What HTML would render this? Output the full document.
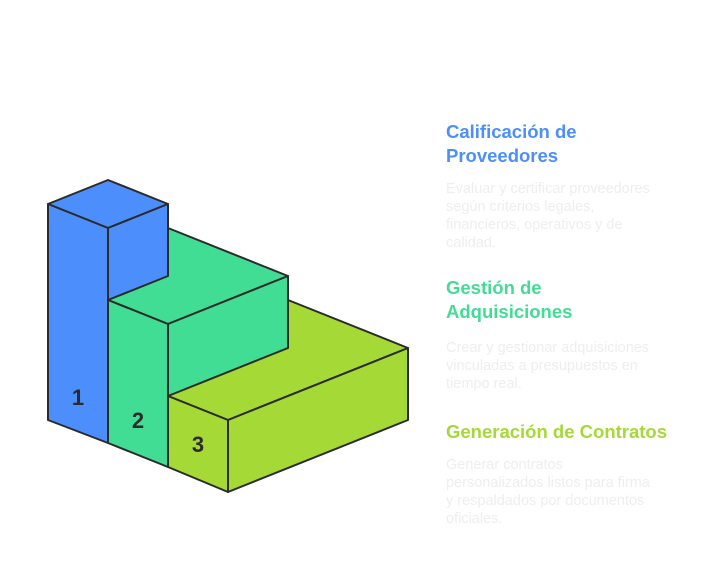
<!DOCTYPE html>
<html><head><meta charset="utf-8"><style>
html,body{margin:0;padding:0;background:#fff;}
body{width:720px;height:562px;position:relative;overflow:hidden;font-family:"Liberation Sans",sans-serif;}
.t{position:absolute;left:446px;font-weight:bold;font-size:18.5px;line-height:24px;}
.d{position:absolute;left:446px;font-size:14.5px;line-height:18px;color:#eeeeee;width:222px;}
</style></head><body>
<svg width="720" height="562" style="position:absolute;left:0;top:0" stroke="#2b2b2b" stroke-width="2" stroke-linejoin="round">
<g fill="#a5d936">
<polygon points="168,396 228,420 408,348 288,300"/>
<polygon points="168,396 228,420 228,492 168,467"/>
<polygon points="228,420 408,348 408,420 228,492"/>
</g>
<g fill="#42dd94">
<polygon points="108,300 168,324 288,276 168,228"/>
<polygon points="108,300 168,324 168,467 108,443"/>
<polygon points="168,324 288,276 288,348 168,396"/>
</g>
<g fill="#4c8ffc">
<polygon points="48,204 108,180 168,204 108,228"/>
<polygon points="48,204 108,228 108,443 48,420"/>
<polygon points="108,228 168,204 168,276 108,300"/>
</g>
<g fill="#2b2b2b" stroke="none" font-family="Liberation Sans" font-weight="bold" font-size="22" text-anchor="middle">
<text x="78" y="405">1</text>
<text x="138" y="428">2</text>
<text x="198" y="452">3</text>
</g>
</svg>
<div class="t" style="top:120px;color:#4c8ffc">Calificación de<br>Proveedores</div>
<div class="d" style="top:180px">Evaluar y certificar proveedores según criterios legales, financieros, operativos y de calidad.</div>
<div class="t" style="top:276px;color:#42dd94">Gestión de<br>Adquisiciones</div>
<div class="d" style="top:339px">Crear y gestionar adquisiciones vinculadas a presupuestos en tiempo real.</div>
<div class="t" style="top:420px;color:#a5d936">Generación de Contratos</div>
<div class="d" style="top:456px;width:240px">Generar contratos<br>personalizados listos para firma<br>y respaldados por documentos<br>oficiales.</div>
</body></html>
